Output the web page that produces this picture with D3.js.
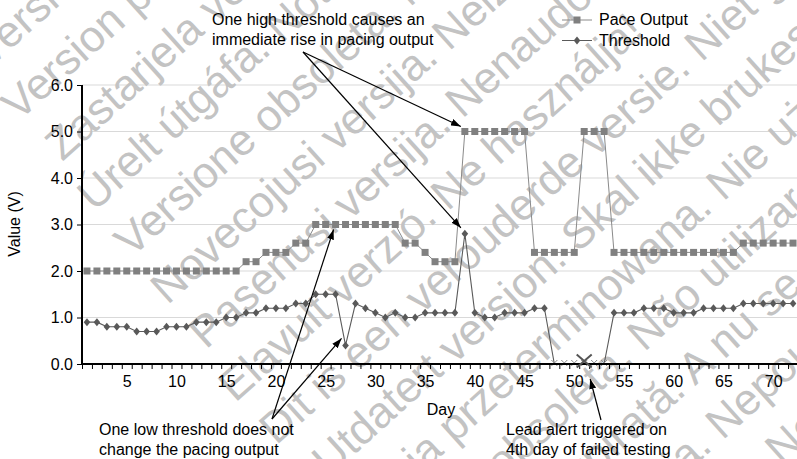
<!DOCTYPE html>
<html>
<head>
<meta charset="utf-8">
<script src="https://cdn.jsdelivr.net/npm/d3@7"></script>
<style>
  html, body { margin: 0; padding: 0; background: #fff; }
  svg { display: block; font-family: "Liberation Sans", Arial, sans-serif; }
</style>
</head>
<body>
<svg id="chart" width="797" height="459"></svg>
<script>
// ---------- data ----------
const days = [1,2,3,4,5,6,7,8,9,10,11,12,13,14,15,16,17,18,19,20,21,22,23,24,25,26,27,28,29,30,31,32,33,34,35,36,
              37,38,39,40,41,42,43,44,45,46,47,48,49,50,51,52,53,54,55,56,57,58,59,60,61,62,63,64,65,66,67,68,69,70,71,72];
const paceOutput = [2.0,2.0,2.0,2.0,2.0,2.0,2.0,2.0,2.0,2.0,2.0,2.0,2.0,2.0,2.0,2.0,
                    2.2,2.2,2.4,2.4,2.4,2.6,2.6,
                    3.0,3.0,3.0,3.0,3.0,3.0,3.0,3.0,3.0,
                    2.6,2.6,2.4,2.2,2.2,2.2,
                    5.0,5.0,5.0,5.0,5.0,5.0,5.0,
                    2.4,2.4,2.4,2.4,2.4,
                    5.0,5.0,5.0,
                    2.4,2.4,2.4,2.4,2.4,2.4,2.4,2.4,2.4,2.4,2.4,2.4,2.4,
                    2.6,2.6,2.6,2.6,2.6,2.6];
const threshold = [0.9,0.9,0.8,0.8,0.8,0.7,0.7,0.7,0.8,0.8,0.8,0.9,0.9,0.9,1.0,1.0,1.1,1.1,
                   1.2,1.2,1.2,1.3,1.3,1.5,1.5,1.5,0.4,1.3,1.2,1.1,1.0,1.1,1.0,1.0,
                   1.1,1.1,1.1,1.1,2.8,1.1,1.0,1.0,1.1,1.1,1.1,1.2,1.2,
                   0,0,0,0,0,0,
                   1.1,1.1,1.1,1.2,1.2,1.2,1.1,1.1,1.1,1.2,1.2,1.2,1.2,
                   1.3,1.3,1.3,1.3,1.3,1.3];
const yTicks = [0,1,2,3,4,5,6];
const xTickLabels = [5,10,15,20,25,30,35,40,45,50,55,60,65,70];
const seriesNames = ["Pace Output", "Threshold"];
const alertDay = 51;
const watermarkLines = [
  "Versión obsoleta. No utilizar.",
  "Version périmée. Ne pas utiliser.",
  "Zastarjela verzija. Nemojte upotrebljavati.",
  "Úrelt útgáfa. Notið ekki.",
  "Versione obsoleta. Non utilizzare.",
  "Novecojusi versija. Neizmantot.",
  "Pasenusi versija. Nenaudokite.",
  "Elavult verzió. Ne használja!",
  "Dit is een verouderde versie. Niet gebruiken.",
  "Utdatert versjon. Skal ikke brukes.",
  "Wersja przeterminowana. Nie używać.",
  "Versão obsoleta. Não utilizar.",
  "Versiune expirată. A nu se utiliza.",
  "Zastaraná verzia. Nepoužívať.",
  "Zastarela različica. Ne uporabljajte."
];
const watermarkShift = [-55,-68,-62,-72,-75,-80,-81,-95,-93,-75,-108,-97,-104,-110,-110];

// ---------- layout ----------
const svg = d3.select("#chart");
const plotL = 82, plotR = 798, plotT = 85, plotB = 364;
const x = d3.scaleLinear().domain([0.5, 72.5]).range([plotL, plotR]);
const y = d3.scaleLinear().domain([0, 6]).range([plotB, plotT]);

svg.append("rect").attr("width", 797).attr("height", 459).attr("fill", "#fff");

// gridlines
svg.append("g").selectAll("line").data(yTicks.filter(d => d > 0)).join("line")
  .attr("x1", plotL).attr("x2", plotR)
  .attr("y1", d => y(d)).attr("y2", d => y(d))
  .attr("stroke", "#d9d9d9").attr("stroke-width", 1);

// watermark
const ang = 42 * Math.PI / 180, sa = Math.sin(ang), ca = Math.cos(ang);
svg.append("g").selectAll("text").data(watermarkLines).join("text")
  .attr("transform", (d, i) => {
    const n = 44 + 59 * i, t = watermarkShift[i];
    return `translate(${n * sa + t * ca},${n * ca - t * sa}) rotate(-42)`;
  })
  .attr("font-size", 44).attr("fill", "#c3c3c3")
  .text(d => d);

// series
const pts = (vals) => days.map((d, i) => ({ day: d, v: vals[i] }));
const pace = pts(paceOutput), thr = pts(threshold);
const line = d3.line().x(d => x(d.day)).y(d => y(d.v));

svg.append("path").datum(pace).attr("d", line)
  .attr("fill", "none").attr("stroke", "#8a8a8a").attr("stroke-width", 1);
svg.append("path").datum(thr).attr("d", line)
  .attr("fill", "none").attr("stroke", "#5a5a5a").attr("stroke-width", 1.1);

svg.append("g").selectAll("rect").data(pace).join("rect")
  .attr("x", d => x(d.day) - 3.5).attr("y", d => y(d.v) - 3.5)
  .attr("width", 7).attr("height", 7).attr("fill", "#808080");

const diamond = "M0,-4L3.3,0L0,4L-3.3,0Z";
svg.append("g").selectAll("path").data(thr.filter(d => d.v > 0)).join("path")
  .attr("transform", d => `translate(${x(d.day)},${y(d.v)})`)
  .attr("d", diamond).attr("fill", "#595959");

// failed-test markers (zero values)
const cross = "M-3,-3L3,3M-3,3L3,-3";
svg.append("g").selectAll("path").data(thr.filter(d => d.v === 0)).join("path")
  .attr("transform", d => `translate(${x(d.day)},${y(d.v) - 1})`)
  .attr("d", cross).attr("stroke", "#8a8a8a").attr("stroke-width", 1).attr("fill", "none");

// axes
const yAxis = svg.append("g").attr("transform", `translate(${plotL},0)`)
  .call(d3.axisLeft(y).tickValues(yTicks).tickFormat(d3.format(".1f")).tickSize(5).tickPadding(4));
const xMinor = svg.append("g").attr("transform", `translate(0,${plotB})`)
  .call(d3.axisBottom(x).tickValues(d3.range(0.5, 73, 1)).tickSize(5).tickFormat(""));
const xLab = svg.append("g").attr("transform", `translate(0,${plotB})`)
  .call(d3.axisBottom(x).tickValues(xTickLabels).tickSize(0).tickPadding(12));
xLab.select(".domain").remove();
[yAxis, xMinor, xLab].forEach(g => {
  g.selectAll("text").attr("font-size", 16).attr("fill", "#000").attr("font-family", "Liberation Sans, Arial, sans-serif");
  g.selectAll("line").attr("stroke", "#000").attr("stroke-width", 1);
});
yAxis.select(".domain").attr("stroke", "#000").attr("stroke-width", 2).attr("d", `M0,${plotT}V${plotB + 1}`);
xMinor.select(".domain").attr("stroke", "#000").attr("stroke-width", 2).attr("d", `M${plotL - 1},0H${plotR}`);

// big X for lead alert
svg.append("path")
  .attr("transform", `translate(${x(alertDay)},${y(0) - 3})`)
  .attr("d", "M-7.5,-6.5L7.5,6.5M-7.5,6.5L7.5,-6.5")
  .attr("stroke", "#555").attr("stroke-width", 2).attr("fill", "none");

// axis titles
svg.append("text").attr("x", 441).attr("y", 415).attr("text-anchor", "middle")
  .attr("font-size", 16).text("Day");
svg.append("text").attr("transform", "translate(20,224) rotate(-90)").attr("text-anchor", "middle")
  .attr("font-size", 16).text("Value (V)");

// legend
const lg = svg.append("g");
lg.append("line").attr("x1", 562).attr("x2", 592).attr("y1", 20).attr("y2", 20).attr("stroke", "#8a8a8a");
lg.append("rect").attr("x", 573.5).attr("y", 16.5).attr("width", 7).attr("height", 7).attr("fill", "#808080");
lg.append("text").attr("x", 599).attr("y", 25).attr("font-size", 16).text(seriesNames[0]);
lg.append("line").attr("x1", 562).attr("x2", 592).attr("y1", 40.5).attr("y2", 40.5).attr("stroke", "#5a5a5a");
lg.append("path").attr("transform", "translate(577,40.5)").attr("d", diamond).attr("fill", "#595959");
lg.append("text").attr("x", 599).attr("y", 46).attr("font-size", 16).text(seriesNames[1]);

// annotations
const defs = svg.append("defs");
defs.append("marker").attr("id", "ah").attr("viewBox", "0 0 10 7")
  .attr("refX", 10).attr("refY", 3.5).attr("markerWidth", 10).attr("markerHeight", 7)
  .attr("markerUnits", "userSpaceOnUse").attr("orient", "auto")
  .append("path").attr("d", "M0,0L10,3.5L0,7Z").attr("fill", "#000");

const arrow = (x1, y1, x2, y2) => svg.append("line")
  .attr("x1", x1).attr("y1", y1).attr("x2", x2).attr("y2", y2)
  .attr("stroke", "#000").attr("stroke-width", 1.2).attr("marker-end", "url(#ah)");

const hiDay = 39, lowDay = 27;
arrow(303, 52, x(hiDay) - 4, y(5.0) - 5);
arrow(303, 52, x(hiDay) - 4, y(2.8) - 6);
arrow(272, 419, x(lowDay) - 4, y(0.4) - 7);
arrow(272, 419, x(lowDay - 1) - 2, y(3.0) + 5);
arrow(601, 420, x(alertDay) + 6, y(0) + 15);

const note = (xx, yy, lines) => lines.forEach((t, i) =>
  svg.append("text").attr("x", xx).attr("y", yy + i * 19.5).attr("font-size", 16).text(t));
note(212, 25, ["One high threshold causes an", "immediate rise in pacing output"]);
note(99, 435, ["One low threshold does not", "change the pacing output"]);
note(506, 435, ["Lead alert triggered on", "4th day of failed testing"]);
</script>
</body>
</html>
